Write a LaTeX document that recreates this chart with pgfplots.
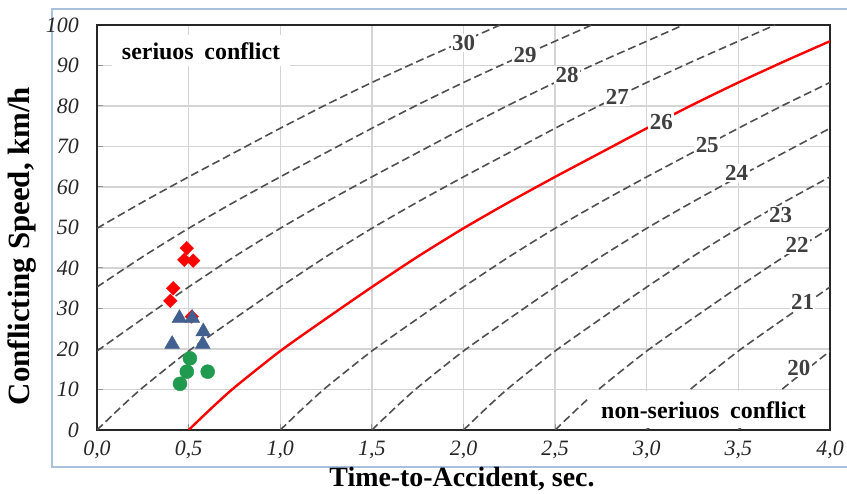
\documentclass[border=0pt]{standalone}
\usepackage{fontspec}
\setmainfont{Liberation Serif}
\usepackage{pgfplots}
\pgfplotsset{compat=1.18}
\definecolor{dashgray}{HTML}{505050}
\definecolor{tri}{HTML}{41608F}
\definecolor{circ}{HTML}{1F9A4E}
\definecolor{bord}{HTML}{A9C1DE}
\definecolor{lbl}{HTML}{404040}
\tikzset{
  dl/.style={dashgray, line width=1.6bp, dash pattern=on 8bp off 4bp, mark=none, smooth, tension=0.4},
  lab/.style={font=\bfseries\fontsize{23}{23}\selectfont, text=lbl, fill=white, inner sep=1.5bp},
}
\begin{document}
\begin{tikzpicture}[x=1bp,y=1bp]
\path[use as bounding box] (0,0) rectangle (847,494);
\draw[bord, line width=1.2bp] (870,485) -- (52,485) -- (52,27) -- (870,27);
\begin{axis}[
  at={(97bp,64bp)}, anchor=south west,
  scale only axis, width=733bp, height=405bp,
  xmin=0, xmax=4, ymin=0, ymax=100,
  xtick={0,0.5,1,1.5,2,2.5,3,3.5,4},
  ytick={0,10,20,30,40,50,60,70,80,90,100},
  scaled ticks=false,
  grid=major,
  grid style={line width=1.4bp, black!17},
  axis line style={line width=1.8bp, black!85},
  tick style={black!40, line width=1bp},
  major tick length=6bp,
  xtick pos=bottom, ytick pos=left,
  tick align=inside,
  /pgf/number format/assume math mode=true,
  tick label style={font=\fontsize{22}{22}\selectfont\itshape, text=black!85, inner sep=0pt},
  xticklabel style={anchor=north, yshift=-11bp, /pgf/number format/.cd, fixed, fixed zerofill, precision=1, use comma},
  yticklabel style={anchor=east, xshift=-18bp, /pgf/number format/.cd, fixed, precision=0},
]
% line 30
\addplot[dl] coordinates {(0,49.8)(0.25,56.3)(0.5,62.5)(0.75,68.5)(1.0,74.5)(1.25,80.3)(1.5,85.8)(1.75,91.0)(2.0,96.0)(2.2,100)};
% line 29
\addplot[dl] coordinates {(0,35.3)(0.25,42.8)(0.5,49.8)(0.75,56.3)(1.0,62.5)(1.25,68.5)(1.5,74.5)(1.75,80.3)(2.0,85.8)(2.25,91.0)(2.5,96.0)(2.7,100)};
% line 28
\addplot[dl] coordinates {(0,19.5)(0.25,27.5)(0.5,35.3)(0.75,42.8)(1.0,49.8)(1.25,56.3)(1.5,62.5)(1.75,68.5)(2.0,74.5)(2.25,80.3)(2.5,85.8)(2.75,91.0)(3.0,96.0)(3.2,100)};
% line 27
\addplot[dl] coordinates {(0,0)(0.125,5.4)(0.25,10.5)(0.5,19.5)(0.75,27.5)(1.0,35.3)(1.25,42.8)(1.5,49.8)(1.75,56.3)(2.0,62.5)(2.25,68.5)(2.5,74.5)(2.75,80.3)(3.0,85.8)(3.25,91.0)(3.5,96.0)(3.7,100)};
% line 25
\addplot[dl] coordinates {(1.0,0)(1.125,5.4)(1.25,10.5)(1.5,19.5)(1.75,27.5)(2.0,35.3)(2.25,42.8)(2.5,49.8)(2.75,56.3)(3.0,62.5)(3.25,68.5)(3.5,74.5)(3.75,80.3)(4.0,85.8)};
% line 24
\addplot[dl] coordinates {(1.5,0)(1.625,5.4)(1.75,10.5)(2.0,19.5)(2.25,27.5)(2.5,35.3)(2.75,42.8)(3.0,49.8)(3.25,56.3)(3.5,62.5)(3.75,68.5)(4.0,74.5)};
% line 23
\addplot[dl] coordinates {(2.0,0)(2.125,5.4)(2.25,10.5)(2.5,19.5)(2.75,27.5)(3.0,35.3)(3.25,42.8)(3.5,49.8)(3.75,56.3)(4.0,62.5)};
% line 22
\addplot[dl] coordinates {(2.5,0)(2.625,5.4)(2.75,10.5)(3.0,19.5)(3.25,27.5)(3.5,35.3)(3.75,42.8)(4.0,49.8)};
% line 21
\addplot[dl] coordinates {(3.0,0)(3.125,5.4)(3.25,10.5)(3.5,19.5)(3.75,27.5)(4.0,35.3)};
% line 20
\addplot[dl] coordinates {(3.5,0)(3.625,5.4)(3.75,10.5)(4.0,19.5)};
% line 26 (red)
\addplot[red, line width=2.4bp, mark=none, smooth, tension=0.4] coordinates {(0.5,0)(0.625,5.4)(0.75,10.5)(1.0,19.5)(1.25,27.5)(1.5,35.3)(1.75,42.8)(2.0,49.8)(2.25,56.3)(2.5,62.5)(2.75,68.5)(3.0,74.5)(3.25,80.3)(3.5,85.8)(3.75,91.0)(4.0,96.0)};
% labels
\node[lab] at (axis cs:2.0,95.6) {30};
\node[lab] at (axis cs:2.336,92.6) {29};
\node[lab] at (axis cs:2.565,87.7) {28};
\node[lab] at (axis cs:2.84,82.2) {27};
\node[lab] at (axis cs:3.08,76.0) {26};
\node[lab] at (axis cs:3.33,70.4) {25};
\node[lab] at (axis cs:3.49,63.5) {24};
\node[lab] at (axis cs:3.73,53.0) {23};
\node[lab] at (axis cs:3.82,45.7) {22};
\node[lab] at (axis cs:3.85,31.6) {21};
\node[lab] at (axis cs:3.83,15.3) {20};
% text boxes
\node[font=\bfseries\fontsize{24}{24}\selectfont, fill=white, inner xsep=10bp, inner ysep=7bp] at (axis cs:0.568,93.6) {seriuos\hspace{0.45em}conflict};
\fill[white] (axis cs:2.68,0.5) rectangle (axis cs:3.993,9.6);
\node[font=\bfseries\fontsize{24}{24}\selectfont] at (axis cs:3.31,4.9) {non-seriuos\hspace{0.45em}conflict};
% markers
\addplot[only marks, mark=square*, mark size=4.8bp, red, mark options={rotate=45}] coordinates {(0.49,44.9)(0.476,42.0)(0.525,41.8)(0.416,35.0)(0.40,31.9)(0.517,28.0)};
\addplot[only marks, mark=triangle*, mark size=8.6bp, tri] coordinates {(0.45,27.6)(0.52,27.6)(0.58,24.3)(0.41,21.2)(0.577,21.2)};
\addplot[only marks, mark=*, mark size=7bp, circ] coordinates {(0.507,17.7)(0.49,14.4)(0.604,14.4)(0.453,11.4)};
\end{axis}
\node[font=\bfseries\fontsize{28}{28}\selectfont] at (462,15) {Time-to-Accident, sec.};
\node[rotate=90, font=\bfseries\fontsize{31}{31}\selectfont] at (22,248) {Conflicting Speed, km/h};
\end{tikzpicture}
\end{document}
